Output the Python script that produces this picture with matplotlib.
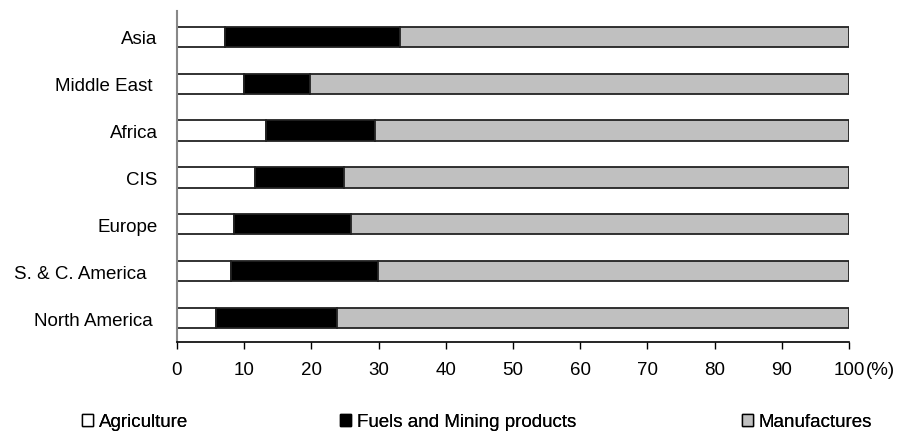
import matplotlib
matplotlib.use("Agg")
import matplotlib.pyplot as plt
from matplotlib.patches import Patch

plt.rcParams['font.family'] = ['Liberation Sans', 'DejaVu Sans']

regions = ["North America ", "S. & C. America  ", "Europe", "CIS", "Africa", "Middle East ", "Asia"]
agriculture = [5.8, 8.1, 8.5, 11.6, 13.3, 10.0, 7.1]
fuels = [18.0, 21.8, 17.4, 13.2, 16.1, 9.8, 26.1]
manufactures = [76.2, 70.1, 74.1, 75.2, 70.6, 80.2, 66.8]
xticks = [0, 10, 20, 30, 40, 50, 60, 70, 80, 90, 100]

FS = 13.5
fig = plt.figure(figsize=(8.99, 4.35), dpi=100)
ax = fig.add_axes([177/899, 1-343/435, (849-177)/899, (343-12)/435])

y = list(range(len(regions)))
h = 0.43
lw = 1.3
ax.barh(y, agriculture, height=h, color='white', edgecolor='#222222', linewidth=lw)
left2 = agriculture
ax.barh(y, fuels, left=left2, height=h, color='black', edgecolor='#222222', linewidth=lw)
left3 = [a + f for a, f in zip(agriculture, fuels)]
ax.barh(y, manufactures, left=left3, height=h, color='#c0c0c0', edgecolor='#222222', linewidth=lw)

ax.set_xlim(0, 100)
ax.set_ylim(-0.51, 6.55)
ax.set_yticks(y)
ax.set_yticklabels(regions, fontsize=FS)
ax.set_xticks(xticks)
ax.set_xticklabels([str(t) for t in xticks], fontsize=FS)
ax.tick_params(axis='y', length=0, pad=14)
ax.tick_params(axis='x', direction='out', length=5, width=1, pad=9, colors='black')

for s in ['top', 'right']:
    ax.spines[s].set_visible(False)
ax.spines['left'].set_color('#888888')
ax.spines['left'].set_linewidth(1.5)
ax.spines['bottom'].set_color('black')
ax.spines['bottom'].set_linewidth(1.2)

fig.text(866/899, 1-371/435, "(%)", fontsize=FS, va='center', ha='left')

legend_items = [("Agriculture", 'white', 82), ("Fuels and Mining products", 'black', 340), ("Manufactures", '#c0c0c0', 742)]
for label, color, xpx in legend_items:
    lg = fig.legend(handles=[Patch(facecolor=color, edgecolor='black', linewidth=1)], labels=[label],
                    loc='center left', bbox_to_anchor=(xpx/899, 1-423/435), frameon=False,
                    fontsize=FS, handlelength=0.6, handleheight=0.6, handletextpad=0.3, borderaxespad=0, borderpad=0)
    fig.add_artist(lg)

fig.savefig("out.png", dpi=100)
